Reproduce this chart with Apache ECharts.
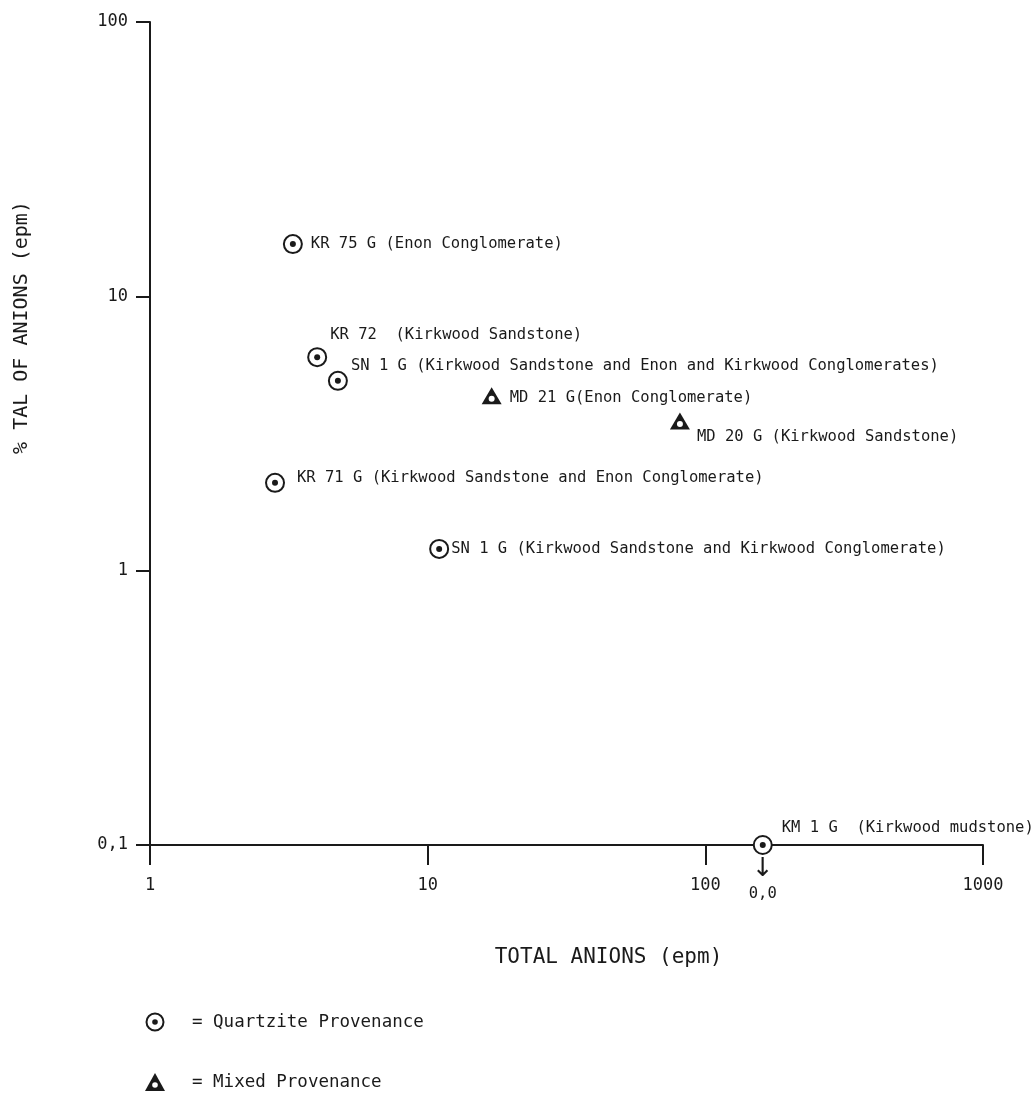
<!DOCTYPE html>
<html>
<head>
<meta charset="utf-8">
<script src="https://cdn.jsdelivr.net/npm/echarts@6/dist/echarts.min.js"></script>
<style>html,body{margin:0;padding:0;background:#fff}#c{width:1035px;height:1096px}</style>
</head>
<body>
<div id="c"></div>
<script>
// ---- data ----
const quartziteNames = [
  'KR 75 G (Enon Conglomerate)',
  'KR 72  (Kirkwood Sandstone)',
  'SN 1 G (Kirkwood Sandstone and Enon and Kirkwood Conglomerates)',
  'KR 71 G (Kirkwood Sandstone and Enon Conglomerate)',
  'SN 1 G (Kirkwood Sandstone and Kirkwood Conglomerate)',
  'KM 1 G  (Kirkwood mudstone)'
];
const quartziteX = [3.27, 4.0, 4.75, 2.82, 11.0, 161];
const quartziteY = [15.5, 6.0, 4.92, 2.09, 1.2, 0.1];

const mixedNames = [
  'MD 21 G(Enon Conglomerate)',
  'MD 20 G (Kirkwood Sandstone)'
];
const mixedX = [17.0, 81];
const mixedY = [4.34, 3.51];

const xTickLabels = ['1', '10', '100', '1000'];
const yTickLabels = ['0,1', '1', '10', '100'];
const zeroNote = '0,0';

// ---- layout (not data) ----
const quartziteLabelOffsets = [[8, 0], [3, -22], [3, -15], [12, -5], [2, 0], [9, -17]];
const mixedLabelOffsets = [[8, 2], [7, 16]];

const FONT = 'DejaVu Sans Mono';
const INK = '#1a1a1a';

function pts(xs, ys, names, offs) {
  return xs.map((x, i) => ({
    value: [x, ys[i]],
    name: names ? names[i] : '',
    label: offs ? { offset: offs[i] } : undefined
  }));
}

const chart = echarts.init(document.getElementById('c'), null, { renderer: 'canvas' });

const labelStyle = {
  show: true, position: 'right', distance: 0,
  formatter: p => p.name,
  color: INK, fontFamily: FONT, fontSize: 15.5, opacity: 1
};

const option = {
  backgroundColor: '#fff',
  animation: false,
  grid: { left: 150, right: 52, top: 22, bottom: 251 },
  xAxis: {
    type: 'log', logBase: 10, min: 1, max: 1000,
    splitLine: { show: false },
    minorTick: { show: false },
    axisLine: { show: true, lineStyle: { color: INK, width: 2 } },
    axisTick: { show: true, length: 20, lineStyle: { color: INK, width: 2 } },
    axisLabel: {
      margin: 32, color: INK, fontFamily: FONT, fontSize: 17,
      formatter: v => xTickLabels[Math.round(Math.log10(v))]
    },
    name: 'TOTAL ANIONS (epm)',
    nameLocation: 'middle',
    nameGap: 102,
    nameTextStyle: { color: INK, fontFamily: FONT, fontSize: 21, padding: [0, 0, 0, 84] }
  },
  yAxis: {
    type: 'log', logBase: 10, min: 0.1, max: 100,
    splitLine: { show: false },
    minorTick: { show: false },
    axisLine: { show: true, lineStyle: { color: INK, width: 2 } },
    axisTick: { show: true, length: 14, lineStyle: { color: INK, width: 2 } },
    axisLabel: {
      margin: 22, color: INK, fontFamily: FONT, fontSize: 17,
      formatter: v => yTickLabels[Math.round(Math.log10(v)) + 1]
    },
    name: '% TAL OF ANIONS (epm)',
    nameLocation: 'middle',
    nameGap: 118,
    nameRotate: 90,
    nameTextStyle: { color: INK, fontFamily: FONT, fontSize: 20, padding: [0, 0, 0, 212] }
  },
  series: [
    {
      name: 'Quartzite Provenance',
      type: 'scatter',
      symbol: 'circle',
      symbolSize: 18,
      itemStyle: { color: '#fff', borderColor: INK, borderWidth: 2, opacity: 1 },
      label: labelStyle,
      data: pts(quartziteX, quartziteY, quartziteNames, quartziteLabelOffsets),
      z: 3
    },
    {
      name: 'Quartzite dot',
      type: 'scatter',
      symbol: 'circle',
      symbolSize: 6,
      itemStyle: { color: INK, opacity: 1 },
      silent: true,
      data: pts(quartziteX, quartziteY),
      z: 4
    },
    {
      name: 'Mixed Provenance',
      type: 'scatter',
      symbol: 'triangle',
      symbolSize: [20, 17],
      itemStyle: { color: INK, opacity: 1 },
      label: labelStyle,
      data: pts(mixedX, mixedY, mixedNames, mixedLabelOffsets),
      z: 3
    },
    {
      name: 'Mixed inner',
      type: 'scatter',
      symbol: 'circle',
      symbolSize: 6,
      symbolOffset: [0, 3],
      itemStyle: { color: '#fff', opacity: 1 },
      silent: true,
      data: pts(mixedX, mixedY),
      z: 4
    },
    {
      name: 'Zero note',
      type: 'scatter',
      symbol: 'circle',
      symbolSize: 18,
      itemStyle: { color: 'rgba(0,0,0,0)', opacity: 1 },
      silent: true,
      data: [{ value: [quartziteX[5], quartziteY[5]] }],
      label: {
        show: true, position: 'bottom', distance: 0,
        formatter: '{a|↓}\n{b|' + zeroNote + '}',
        rich: {
          a: { fontFamily: 'DejaVu Sans', fontSize: 26, color: INK, lineHeight: 30, align: 'center' },
          b: { fontFamily: FONT, fontSize: 15.5, color: INK, lineHeight: 20, align: 'center' }
        }
      },
      z: 5
    }
  ],
  graphic: [
    { type: 'circle', shape: { cx: 155, cy: 1022, r: 8.5 }, style: { fill: '#fff', stroke: INK, lineWidth: 2 } },
    { type: 'circle', shape: { cx: 155, cy: 1022, r: 2.8 }, style: { fill: INK } },
    { type: 'text', x: 192, y: 1022, style: { text: '= Quartzite Provenance', font: '17.5px "DejaVu Sans Mono"', fill: INK, verticalAlign: 'middle' } },
    { type: 'polygon', shape: { points: [[155, 1073], [165, 1091], [145, 1091]] }, style: { fill: INK } },
    { type: 'circle', shape: { cx: 155, cy: 1085, r: 2.8 }, style: { fill: '#fff' } },
    { type: 'text', x: 192, y: 1082, style: { text: '= Mixed Provenance', font: '17.5px "DejaVu Sans Mono"', fill: INK, verticalAlign: 'middle' } }
  ]
};
chart.setOption(option);
</script>
</body>
</html>
